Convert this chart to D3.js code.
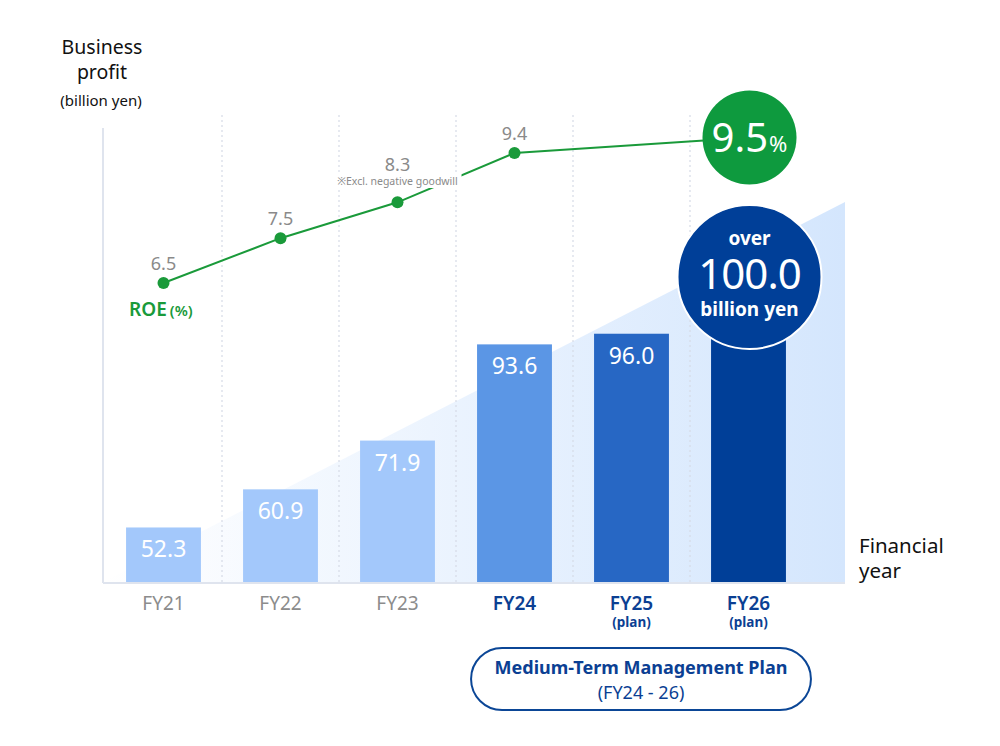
<!DOCTYPE html>
<html>
<head>
<meta charset="utf-8">
<script src="https://cdn.jsdelivr.net/npm/d3@7"></script>
<style>
  body { margin: 0; background: #fff; }
  svg { display: block; font-family: "Noto Sans", "Noto Sans CJK JP", sans-serif; }
</style>
</head>
<body>
<div id="chart"></div>
<script>
// chart data
const years = ["FY21", "FY22", "FY23", "FY24", "FY25", "FY26"];
const profit = [52.3, 60.9, 71.9, 93.6, 96.0, 100.0];
const profitLabels = ["52.3", "60.9", "71.9", "93.6", "96.0", "100.0"];
const roeYears = ["FY21", "FY22", "FY23", "FY24", "FY26"];
const roe = [6.5, 7.5, 8.3, 9.4, 9.5];
const planYears = ["FY25", "FY26"];
const noteYear = "FY23";
const barColors = ["#a3c8fb", "#a3c8fb", "#a3c8fb", "#5b96e5", "#2767c4", "#003f98"];

const width = 1000, height = 746;
const margin = { top: 115, right: 155, bottom: 164, left: 105 };
const baseY = height - margin.bottom; // 582

const svg = d3.select("#chart").append("svg")
    .attr("width", width)
    .attr("height", height)
    .attr("viewBox", [0, 0, width, height]);

const xScale = d3.scaleBand()
    .domain(years)
    .range([margin.left, 807])
    .paddingInner(0.36)
    .paddingOuter(0.18);

const yScale = d3.scaleLinear()
    .domain([40, 100])
    .range([baseY, 316]);

const roeScale = d3.scaleLinear()
    .domain([6.5, 9.4])
    .range([283, 153]);

const cx = d => xScale(d) + xScale.bandwidth() / 2;

// gradient background triangle
const defs = svg.append("defs");
const grad = defs.append("linearGradient").attr("id", "tri").attr("x1", 0).attr("x2", 1).attr("y1", 0).attr("y2", 0);
grad.append("stop").attr("offset", "0%").attr("stop-color", "#ffffff");
grad.append("stop").attr("offset", "100%").attr("stop-color", "#d4e6fd");

svg.append("path")
    .attr("d", `M103,${baseY} L845,202 L845,${baseY} Z`)
    .attr("fill", "url(#tri)");

// dotted grid between bands
const step = xScale.step();
svg.append("g")
    .selectAll("line")
    .data(d3.range(1, years.length))
    .join("line")
    .attr("x1", i => margin.left + i * step)
    .attr("x2", i => margin.left + i * step)
    .attr("y1", margin.top)
    .attr("y2", baseY)
    .attr("stroke", "#d6dbe6")
    .attr("stroke-width", 1.2)
    .attr("stroke-dasharray", "2,3");

// axes lines
svg.append("line")
    .attr("x1", 103).attr("x2", 103).attr("y1", 128).attr("y2", baseY + 1)
    .attr("stroke", "#dfe4ee").attr("stroke-width", 2);
svg.append("line")
    .attr("x1", 103).attr("x2", 845).attr("y1", baseY + 1).attr("y2", baseY + 1)
    .attr("stroke", "#dfe4ee").attr("stroke-width", 2);

// bars
svg.append("g")
    .selectAll("rect")
    .data(years)
    .join("rect")
    .attr("x", d => xScale(d))
    .attr("y", (d, i) => yScale(profit[i]))
    .attr("width", xScale.bandwidth())
    .attr("height", (d, i) => baseY - yScale(profit[i]))
    .attr("fill", (d, i) => barColors[i]);

// bar value labels (FY26 shown in the circle instead)
svg.append("g")
    .selectAll("text")
    .data(years.slice(0, 5))
    .join("text")
    .attr("x", d => cx(d))
    .attr("y", (d, i) => yScale(profit[i]) + 30)
    .attr("text-anchor", "middle")
    .attr("font-size", 23)
    .attr("fill", "#fff")
    .text((d, i) => profitLabels[i]);

// x labels
const xl = svg.append("g");
xl.selectAll("text.yr")
    .data(years)
    .join("text")
    .attr("class", "yr")
    .attr("x", d => cx(d))
    .attr("y", 610)
    .attr("text-anchor", "middle")
    .attr("font-size", 19)
    .attr("font-weight", (d, i) => i >= 3 ? 600 : 400)
    .attr("fill", (d, i) => i >= 3 ? "#0b3f93" : "#8c8c8c")
    .text(d => d);
xl.selectAll("text.plan")
    .data(planYears)
    .join("text")
    .attr("class", "plan")
    .attr("x", d => cx(d))
    .attr("y", 627)
    .attr("text-anchor", "middle")
    .attr("font-size", 13.5)
    .attr("font-weight", 700)
    .attr("fill", "#0b3f93")
    .text("(plan)");

// ROE line (last point goes to the centre of the target circle)
const roePts = roeYears.map((d, i) => [cx(d), roeScale(roe[i])]);
const last = roePts[roePts.length - 1];
const target = [last[0] + 1, last[1] - 11];
svg.append("path")
    .attr("d", d3.line()(roePts.slice(0, 4).concat([target])))
    .attr("fill", "none")
    .attr("stroke", "#1a9a3a")
    .attr("stroke-width", 2);

// note under 8.3
const noteX = cx(noteYear);
const note = svg.append("g");
note.append("rect")
    .attr("x", noteX - 64).attr("y", 174).attr("width", 128).attr("height", 14)
    .attr("fill", "#fff");
note.append("text")
    .attr("x", noteX).attr("y", 185)
    .attr("text-anchor", "middle")
    .attr("font-size", 10.5)
    .attr("fill", "#8a8a8a")
    .text("※Excl. negative goodwill");

svg.append("g")
    .selectAll("circle")
    .data(roePts.slice(0, 4))
    .join("circle")
    .attr("cx", d => d[0])
    .attr("cy", d => d[1])
    .attr("r", 6)
    .attr("fill", "#1a9a3a");

svg.append("g")
    .selectAll("text")
    .data(roePts.slice(0, 4))
    .join("text")
    .attr("x", d => d[0])
    .attr("y", (d, i) => d[1] - (roeYears[i] === noteYear ? 31 : 13))
    .attr("text-anchor", "middle")
    .attr("font-size", 18)
    .attr("fill", "#8a8a8a")
    .text((d, i) => roe[i].toFixed(1));

// ROE label
const roeLbl = svg.append("text")
    .attr("x", 129).attr("y", 316)
    .attr("fill", "#1a9a3a")
    .attr("font-weight", 600);
roeLbl.append("tspan").attr("font-size", 19).text("ROE");
roeLbl.append("tspan").attr("font-size", 15).attr("dx", 3).text("(%)");

// green ROE target circle
svg.append("circle")
    .attr("cx", target[0]).attr("cy", target[1])
    .attr("r", 47)
    .attr("fill", "#0e9a3e");
const gt = svg.append("text")
    .attr("x", target[0]).attr("y", target[1] + 14)
    .attr("text-anchor", "middle")
    .attr("fill", "#fff");
gt.append("tspan").attr("font-size", 40).text("9.5");
gt.append("tspan").attr("font-size", 22).attr("dx", 1).text("%");

// blue profit target circle
const bx = cx("FY26") + 1, by = yScale(profit[5]) - 39;
svg.append("circle")
    .attr("cx", bx).attr("cy", by)
    .attr("r", 72)
    .attr("fill", "#003f98")
    .attr("stroke", "#fff")
    .attr("stroke-width", 2);
svg.append("text")
    .attr("x", bx).attr("y", by - 32)
    .attr("text-anchor", "middle").attr("fill", "#fff")
    .attr("font-size", 19).attr("font-weight", 700)
    .text("over");
svg.append("text")
    .attr("x", bx).attr("y", by + 12)
    .attr("text-anchor", "middle").attr("fill", "#fff")
    .attr("font-size", 42)
    .attr("letter-spacing", -1)
    .text(profitLabels[5]);
svg.append("text")
    .attr("x", bx).attr("y", by + 39)
    .attr("text-anchor", "middle").attr("fill", "#fff")
    .attr("font-size", 19).attr("font-weight", 700)
    .text("billion yen");

// axis titles
const yt = svg.append("text").attr("text-anchor", "middle").attr("font-size", 19.5).attr("fill", "#111");
yt.append("tspan").attr("x", 102).attr("y", 54).text("Business");
yt.append("tspan").attr("x", 102).attr("y", 79).text("profit");
svg.append("text")
    .attr("x", 101).attr("y", 106)
    .attr("text-anchor", "middle").attr("font-size", 15).attr("fill", "#111")
    .text("(billion yen)");

const xt = svg.append("text").attr("font-size", 20.5).attr("fill", "#111");
xt.append("tspan").attr("x", 859).attr("y", 553).text("Financial");
xt.append("tspan").attr("x", 859).attr("y", 578).text("year");

// medium-term plan box
const px0 = xScale("FY24") - 6, px1 = xScale("FY26") + xScale.bandwidth() + 25;
svg.append("rect")
    .attr("x", px0).attr("y", 648)
    .attr("width", px1 - px0).attr("height", 62)
    .attr("rx", 31)
    .attr("fill", "#fff")
    .attr("stroke", "#0b4696")
    .attr("stroke-width", 2);
svg.append("text")
    .attr("x", (px0 + px1) / 2).attr("y", 674)
    .attr("text-anchor", "middle").attr("font-size", 18).attr("font-weight", 700)
    .attr("fill", "#0b3f93")
    .text("Medium-Term Management Plan");
svg.append("text")
    .attr("x", (px0 + px1) / 2).attr("y", 699)
    .attr("text-anchor", "middle").attr("font-size", 18)
    .attr("fill", "#0b3f93")
    .text("(FY24 - 26)");
</script>
</body>
</html>
